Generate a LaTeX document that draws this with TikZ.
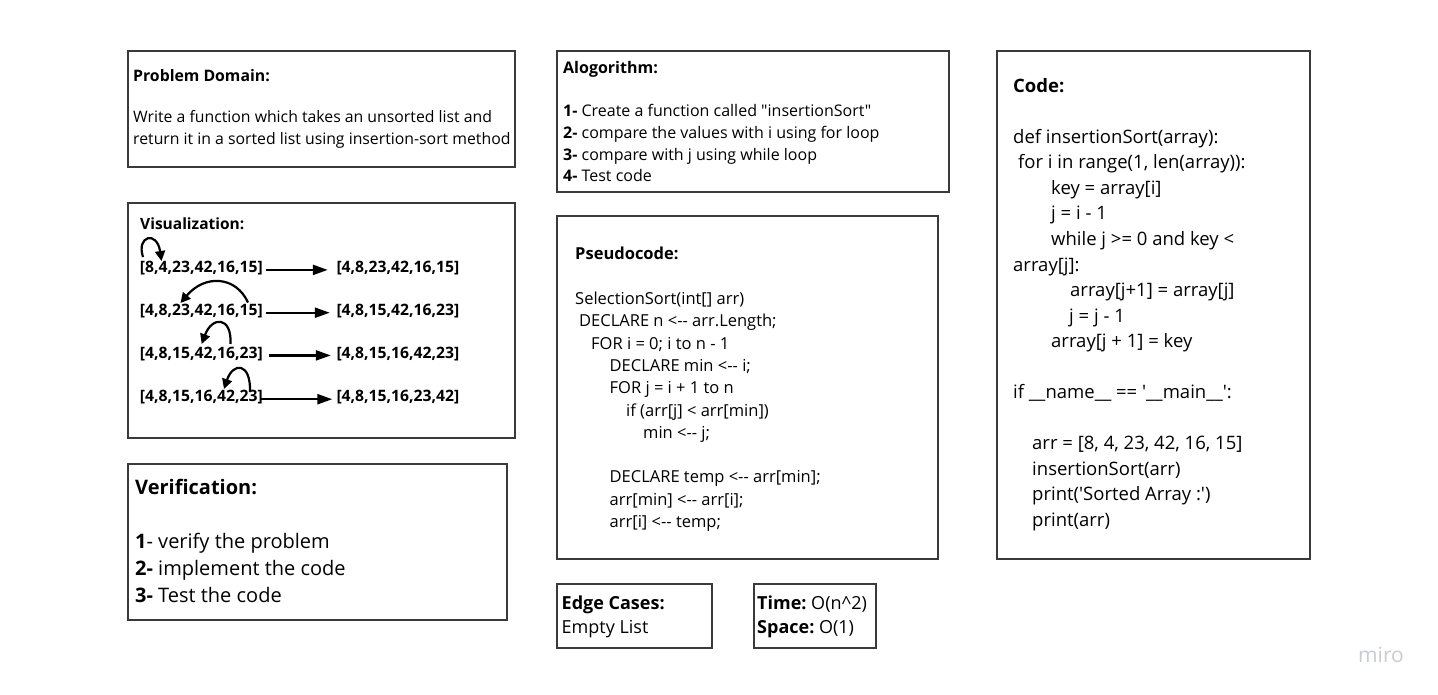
\documentclass[tikz,border=0pt]{standalone}
\usepackage{fontspec}
\newfontfamily\os{Open Sans}
\usetikzlibrary{arrows.meta}
\definecolor{bord}{HTML}{3A3A3A}
\definecolor{mirogray}{HTML}{C9CBD4}
\frenchspacing
\begin{document}
\begin{tikzpicture}[x=1pt,y=-1pt,
  box/.style={draw=bord,line width=1.3pt},
  txt/.style={anchor=north west,inner sep=0pt,align=left,text=black},
  row/.style={anchor=base west,inner sep=0pt,font={\os\bfseries\fontsize{15.7}{19}\selectfont}},
  harr/.style={line width=2.3pt,-{Triangle[length=15pt,width=10pt]}},
  carr/.style={line width=2.2pt,-{Triangle[length=10pt,width=10pt]}},
  fD/.style={font={\os\fontsize{15.8}{22}\selectfont}},
  fA/.style={font={\os\fontsize{16}{21.7}\selectfont}},
  fP/.style={font={\os\fontsize{16.5}{22.3}\selectfont}},
  fC/.style={font={\os\fontsize{18.5}{25.55}\selectfont}},
  fV/.style={font={\os\fontsize{20}{27}\selectfont}},
  fE/.style={font={\os\fontsize{18}{23.5}\selectfont}}
]
\useasboundingbox[fill=white] (0,0) rectangle (1438,695);

% boxes
\draw[box] (128,51) rectangle (515,167);
\draw[box] (128,203) rectangle (515,438);
\draw[box] (128,464) rectangle (507,620);
\draw[box] (557,51) rectangle (949,192);
\draw[box] (557,216) rectangle (938,559);
\draw[box] (557,584) rectangle (712,648);
\draw[box] (754,584) rectangle (876,648);
\draw[box] (997,51) rectangle (1310,559);

% Problem domain
\node[txt,fD] (pd) at (133,65.6) {\textbf{Problem Domain:}\strut\\[19.3pt]
Write a function which takes an unsorted list and\\
return it in a sorted list using insertion-sort method};

% Visualization
\node[anchor=base west,inner sep=0pt,font={\os\bfseries\fontsize{15.5}{20}\selectfont}] (vt) at (140,229.5) {Visualization:};
\node[row] (l1) at (139.7,272.5) {[8,4,23,42,16,15]};
\node[row] (l2) at (139.7,315.3) {[4,8,23,42,16,15]};
\node[row] (l3) at (139.7,358) {[4,8,15,42,16,23]};
\node[row] (l4) at (139.7,401.8) {[4,8,15,16,42,23]};
\node[row] (r1) at (336.3,272.5) {[4,8,23,42,16,15]};
\node[row] (r2) at (336.3,315.3) {[4,8,15,42,16,23]};
\node[row] (r3) at (336.3,358) {[4,8,15,16,42,23]};
\node[row] (r4) at (336.3,401.8) {[4,8,15,16,23,42]};
\draw[harr] ([xshift=3pt,yshift=2.6pt]l1.base east) -- ([xshift=-8.5pt,yshift=2.6pt]r1.base west);
\draw[harr] ([xshift=3pt,yshift=2.6pt]l2.base east) -- ([xshift=-6.5pt,yshift=2.6pt]r2.base west);
\draw[harr] ([xshift=6.5pt,yshift=2.6pt]l3.base east) -- ([xshift=-5.5pt,yshift=2.6pt]r3.base west);
\draw[harr] ([xshift=-2.5pt,yshift=2.6pt]l4.base east) -- ([xshift=-4pt,yshift=2.6pt]r4.base west);
\coordinate (c1s) at (143,257);   \coordinate (c1e) at (161.5,261);
\coordinate (c2s) at (248,302.5); \coordinate (c2e) at (180.5,303);
\coordinate (c3s) at (230.5,344); \coordinate (c3e) at (201.7,344);
\coordinate (c4s) at (250,392);   \coordinate (c4e) at (224,389);
\draw[carr] (c1s) .. controls (136,236) and (157,230) .. (c1e);
\draw[carr] (c2s) .. controls (236,276) and (205,274) .. (c2e);
\draw[carr] (c3s) .. controls (232,316) and (212,316) .. (c3e);
\draw[carr] (c4s) .. controls (251,362) and (233,362) .. (c4e);

% Verification
\node[txt,fV] (ver) at (135,474.9) {\textbf{Verification:}\strut\\
\\
\textbf{1}- verify the problem\\
\textbf{2-} implement the code\\
\textbf{3-} Test the code};

% Algorithm
\node[txt,fA] (alg) at (563,58.3) {\textbf{Alogorithm:}\strut\\[-0.4pt]
\\
\textbf{1-} Create a function called "insertionSort"\\
\textbf{2-} compare the values with i using for loop\\
\textbf{3-} compare with j using while loop\\
\textbf{4-} Test code};

% Pseudocode
\node[txt,fP] (pse) at (575,244.1) {\textbf{Pseudocode:}\strut\\
\\
SelectionSort(int[] arr)\\
\hspace*{4pt}DECLARE n <-- arr.Length;\\
\hspace*{16pt}FOR i = 0; i to n - 1\\
\hspace*{34.5pt}DECLARE min <-- i;\\
\hspace*{34.5pt}FOR j = i + 1 to n\\
\hspace*{51pt}if (arr[j] < arr[min])\\
\hspace*{68pt}min <-- j;\\
\\
\hspace*{34.5pt}DECLARE temp <-- arr[min];\\
\hspace*{34.5pt}arr[min] <-- arr[i];\\
\hspace*{34.5pt}arr[i] <-- temp;};

% Edge cases, complexity
\node[txt,fE] (edge) at (561.5,593) {\textbf{Edge Cases:}\strut\\
Empty List};
\node[txt,fE] (cplx) at (757,593) {\textbf{Time:} O(n\textasciicircum 2)\strut\\
\textbf{Space:} O(1)};

% Code
\node[txt,fC] (code) at (1013,74.1) {\textbf{Code:}\strut\\
\\
def insertionSort(array):\\
\hspace*{5pt}for i in range(1, len(array)):\\
\hspace*{38pt}key = array[i]\\
\hspace*{38pt}j = i - 1\\
\hspace*{38pt}while j >= 0 and key <\\
array[j]:\\
\hspace*{57pt}array[j+1] = array[j]\\
\hspace*{56pt}j = j - 1\\
\hspace*{38pt}array[j + 1] = key\\
\\
if \_\_name\_\_ == '\_\_main\_\_':\\
\\
\hspace*{19pt}arr = [8, 4, 23, 42, 16, 15]\\
\hspace*{19pt}insertionSort(arr)\\
\hspace*{19pt}print('Sorted Array :')\\
\hspace*{19pt}print(arr)};

% logo
\node[anchor=base west,inner sep=0pt,text=mirogray,font={\os\fontsize{21}{24}\selectfont}] (miro) at (1358,662) {miro};
\end{tikzpicture}
\end{document}
